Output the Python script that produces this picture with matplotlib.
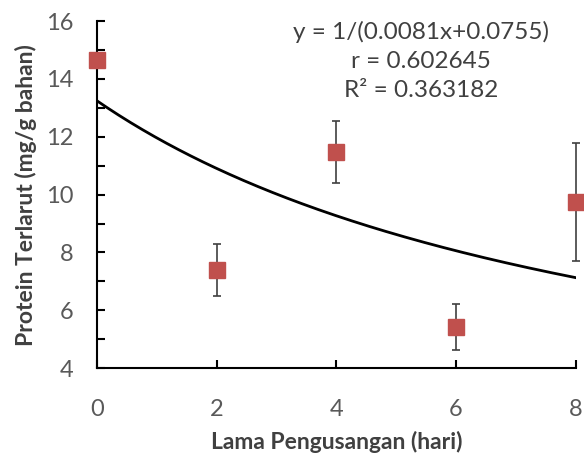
import numpy as np
import matplotlib.pyplot as plt

plt.rcParams['font.family'] = ['Lato', 'DejaVu Sans']

hari = [0, 2, 4, 6, 8]
protein = [14.65, 7.4, 11.47, 5.43, 9.75]
galat = [0.0, 0.9, 1.07, 0.8, 2.03]
a, b = 0.0081, 0.0755

fig = plt.figure(figsize=(5.84, 4.59), dpi=100)
ax = fig.add_axes([0.166, 0.198, 0.82, 0.756])

xs = np.linspace(0, 8, 200)
ax.plot(xs, 1 / (a * xs + b), color='black', lw=2, zorder=2)
ax.errorbar(hari, protein, yerr=galat, fmt='s', color='#C0504D', ms=12,
            ecolor='#404040', elinewidth=1.2, capsize=3, capthick=1.2, zorder=3,
            clip_on=False)

ax.set_xlim(0, 8)
ax.set_ylim(4, 16)
ax.set_xticks([0, 2, 4, 6, 8])
ax.set_yticks([4, 6, 8, 10, 12, 14, 16])
ax.set_yticks(np.arange(5, 16, 2), minor=True)
for s in ['top', 'right']:
    ax.spines[s].set_visible(False)
for s in ['left', 'bottom']:
    ax.spines[s].set_linewidth(1.5)
ax.tick_params(direction='in', length=6, width=1.5, labelsize=17,
               labelcolor='#595959')
ax.tick_params(axis='x', pad=22)
ax.tick_params(axis='y', pad=17)
ax.tick_params(axis='y', which='minor', direction='in', length=6, width=1.5)

ax.set_xlabel('Lama Pengusangan (hari)', fontsize=16.5, fontweight='bold',
              color='#404040', labelpad=8)
ax.set_ylabel('Protein Terlarut (mg/g bahan)', fontsize=16.5, fontweight='bold',
              color='#404040', labelpad=6)

ax.text(0.677, 1.0, 'y = 1/(0.0081x+0.0755)\nr = 0.602645\nR² = 0.363182',
        transform=ax.transAxes, ha='center', va='top', fontsize=17.5,
        color='#404040', linespacing=1.45)

fig.savefig('out.png', dpi=100)
